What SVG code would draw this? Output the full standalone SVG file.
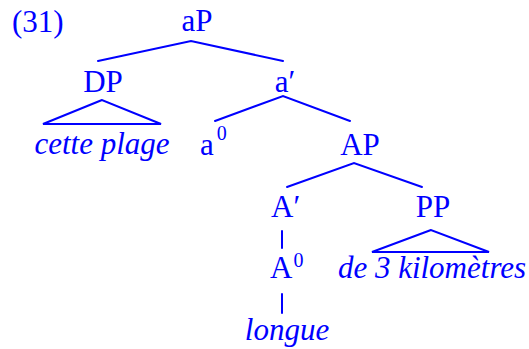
<svg xmlns="http://www.w3.org/2000/svg" width="529" height="349" viewBox="0 0 529 349">
<style>
.m{text-anchor:middle}
.i{font-style:italic}
line,polyline,polygon{stroke:#0000ff;stroke-width:2;fill:none;stroke-linecap:round;stroke-linejoin:miter}
</style>
<rect width="529" height="349" fill="#ffffff"/>
<text x="12" y="32" font-family="Liberation Serif" font-size="31" fill="#0000ff">(31)</text>
<g id="aP"><text class="m" x="197" y="31" font-family="Liberation Serif" font-size="31" fill="#0000ff">aP</text></g>
<g id="DP"><text class="m" x="103" y="92" font-family="Liberation Serif" font-size="31" fill="#0000ff">DP</text></g>
<g id="cette-plage"><text class="m i" x="102" y="154" font-family="Liberation Serif" font-size="31" fill="#0000ff">cette plage</text></g>
<g id="a-bar"><text class="m" x="285" y="92" font-family="Liberation Serif" font-size="31" fill="#0000ff">a′</text></g>
<g id="a0"><text x="200" y="155" font-family="Liberation Serif" font-size="31" fill="#0000ff">a<tspan font-size="20" dx="3" dy="-15">0</tspan></text></g>
<g id="AP"><text class="m" x="360" y="155" font-family="Liberation Serif" font-size="31" fill="#0000ff">AP</text></g>
<g id="A-bar"><text x="271" y="217" font-family="Liberation Serif" font-size="31" fill="#0000ff">A′</text></g>
<g id="PP"><text class="m" x="433" y="217" font-family="Liberation Serif" font-size="31" fill="#0000ff">PP</text></g>
<g id="A0"><text x="270" y="278" font-family="Liberation Serif" font-size="31" fill="#0000ff">A<tspan font-size="20" dx="1" dy="-11">0</tspan></text></g>
<g id="de-3-kilometres"><text class="m i" x="432" y="278" font-family="Liberation Serif" font-size="31" fill="#0000ff">de 3 kilomètres</text></g>
<g id="longue"><text class="m i" x="287" y="340" font-family="Liberation Serif" font-size="31" fill="#0000ff">longue</text></g>
<g id="connectors">
<polyline points="98,61 191,41 283,61"/>
<polygon points="102,100 43,124 161,124"/>
<polyline points="215,121 283,96 350,121"/>
<polyline points="287,187 354,163 422,187"/>
<line x1="282" y1="231" x2="282" y2="248"/>
<line x1="282" y1="294" x2="282" y2="313"/>
<polygon points="431,230 372,252 489,252"/>
</g>
</svg>
